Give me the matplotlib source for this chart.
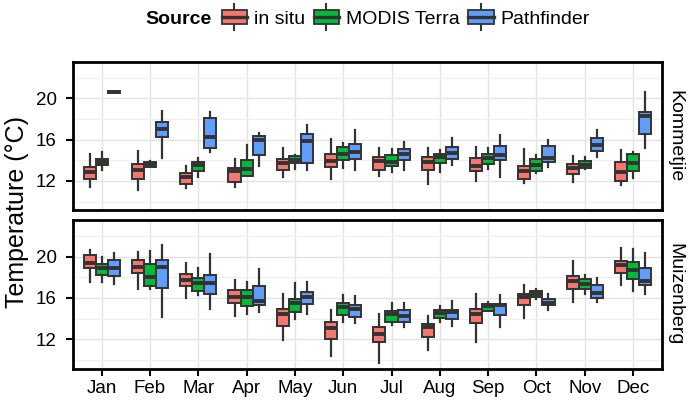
import matplotlib
matplotlib.use("Agg")
import matplotlib.pyplot as plt
from matplotlib.legend_handler import HandlerBase
from matplotlib.patches import Rectangle
from matplotlib.lines import Line2D

plt.rcParams['font.family'] = ['Liberation Sans', 'DejaVu Sans']

months = ["Jan", "Feb", "Mar", "Apr", "May", "Jun", "Jul", "Aug", "Sep", "Oct", "Nov", "Dec"]
sources = ["in situ", "MODIS Terra", "Pathfinder"]
sites = ["Kommetjie", "Muizenberg"]
colors = ["#F8766D", "#00BA38", "#619CFF"]

# (lower whisker, Q1, median, Q3, upper whisker) per month
kom_insitu = [(11.36, 12.2, 12.9, 13.3, 14.65), (11.13, 12.16, 13.07, 13.61, 14.9),
              (11.29, 11.71, 12.4, 12.75, 13.49), (11.36, 11.94, 12.97, 13.29, 14.1),
              (12.33, 13.07, 13.71, 14.1, 15.16), (12.2, 13.39, 13.97, 14.61, 16.03),
              (12.52, 13.07, 13.94, 14.36, 15.16), (11.68, 13.04, 13.81, 14.29, 15.22),
              (12.03, 12.97, 13.49, 14.26, 15.26), (11.78, 12.2, 12.91, 13.49, 15.06),
              (11.88, 12.65, 13.23, 13.61, 14.42), (11.61, 12.0, 12.84, 13.81, 15.0)]
kom_modis = [(13.07, 13.5, 13.8, 14.1, 14.8), (13.3, 13.35, 13.6, 13.85, 13.9),
             (12.33, 13.0, 13.55, 13.8, 14.2), (12.5, 12.52, 13.2, 14.0, 15.5),
             (13.2, 13.7, 14.0, 14.4, 14.5), (13.23, 14.03, 14.61, 15.32, 15.64),
             (12.84, 13.49, 13.87, 14.52, 15.1), (12.84, 13.78, 14.36, 14.61, 15.0),
             (13.16, 13.61, 14.2, 14.65, 15.22), (12.74, 13.0, 13.55, 14.13, 14.52),
             (13.2, 13.23, 13.55, 13.93, 14.36), (12.26, 12.97, 13.71, 14.61, 14.84)]
kom_path = [(20.5, 20.55, 20.6, 20.7, 20.75), (14.26, 16.23, 17.0, 17.74, 18.77),
            (14.84, 15.23, 16.29, 18.06, 18.71), (13.45, 14.51, 15.95, 16.32, 16.68),
            (13.07, 13.71, 15.87, 16.55, 17.42), (13.07, 14.13, 14.84, 15.58, 16.94),
            (13.07, 14.03, 14.61, 15.13, 15.74), (13.55, 14.1, 14.74, 15.26, 16.19),
            (12.36, 14.03, 14.52, 15.42, 16.45), (13.32, 13.8, 14.2, 15.39, 15.97),
            (14.29, 14.94, 15.48, 16.13, 16.94), (15.22, 16.55, 18.32, 18.71, 20.57)]
mui_insitu = [(17.5, 18.93, 19.42, 20.17, 20.59), (16.82, 18.38, 19.03, 19.71, 20.39),
              (16.04, 17.14, 17.73, 18.31, 19.35), (14.31, 15.52, 16.1, 16.75, 17.73),
              (11.94, 13.33, 14.47, 14.9, 16.36), (10.41, 12.04, 13.08, 13.73, 14.8),
              (9.76, 11.71, 12.52, 13.17, 14.47), (11.0, 12.2, 13.17, 13.5, 14.31),
              (11.71, 13.56, 14.47, 14.96, 16.36), (14.05, 15.35, 16.1, 16.43, 17.24),
              (15.61, 16.91, 17.66, 18.11, 19.61), (17.24, 18.38, 19.19, 19.61, 20.82)]
mui_modis = [(17.5, 18.21, 18.87, 19.32, 19.91), (16.91, 17.14, 18.05, 19.25, 20.55),
             (16.33, 16.69, 17.4, 17.89, 18.87), (14.47, 15.22, 16.1, 16.75, 17.56),
             (13.98, 14.64, 15.55, 15.94, 17.4), (13.73, 14.38, 15.12, 15.55, 16.33),
             (13.4, 13.73, 14.47, 14.74, 15.52), (13.66, 14.05, 14.54, 14.8, 15.22),
             (14.74, 14.74, 15.22, 15.39, 15.61), (15.94, 16.07, 16.36, 16.65, 16.91),
             (16.36, 16.91, 17.33, 17.79, 18.21), (16.65, 17.82, 18.7, 19.45, 20.72)]
mui_path = [(17.33, 18.11, 18.87, 19.64, 20.33), (14.15, 16.98, 19.03, 19.67, 21.07),
            (14.9, 16.43, 17.47, 18.21, 20.23), (14.64, 15.29, 15.68, 17.17, 18.8),
            (14.47, 15.45, 16.1, 16.59, 17.5), (13.56, 14.2, 14.96, 15.29, 16.16),
            (13.24, 13.66, 14.31, 14.8, 15.55), (13.33, 13.98, 14.64, 14.86, 15.71),
            (13.17, 14.38, 15.29, 15.45, 16.26), (14.8, 15.29, 15.55, 15.87, 16.43),
            (15.61, 16.0, 16.52, 17.3, 17.95), (16.36, 17.24, 17.63, 18.86, 20.33)]

site_data = {"Kommetjie": [kom_insitu, kom_modis, kom_path],
             "Muizenberg": [mui_insitu, mui_modis, mui_path]}

W, H = 690, 409
fig = plt.figure(figsize=(W / 100, H / 100), dpi=100)

def px_axes(left, top, right, bottom):
    return fig.add_axes([left / W, 1 - bottom / H, (right - left) / W, (bottom - top) / H])

AX_L, AX_R = 72.7, 662
ax_top = px_axes(AX_L, 61.7, AX_R, 210.3)
ax_bot = px_axes(AX_L, 219.7, AX_R, 369)

edge = "#333333"
offsets = [-0.25, 0.0, 0.25]
positions_base = list(range(1, len(months) + 1))

for ax, site in zip([ax_top, ax_bot], sites):
    for s_i, series in enumerate(site_data[site]):
        stats = [dict(whislo=v[0], q1=v[1], med=v[2], q3=v[3], whishi=v[4], fliers=[])
                 for v in series]
        pos = [p + offsets[s_i] for p in positions_base]
        ax.bxp(stats, positions=pos, widths=0.25, patch_artist=True,
               showcaps=False, showfliers=False,
               boxprops=dict(facecolor=colors[s_i], edgecolor=edge, linewidth=1.4),
               medianprops=dict(color=edge, linewidth=2.8, solid_capstyle='butt'),
               whiskerprops=dict(color=edge, linewidth=1.6),
               manage_ticks=False, zorder=3)
    ax.set_xlim(0.4, 12.6)
    ax.set_ylim(9.15, 23.55)
    ax.set_yticks([12, 16, 20])
    ax.set_yticks([10, 14, 18, 22], minor=True)
    ax.set_xticks(positions_base)
    ax.grid(True, which='major', color='#E3E3E3', linewidth=1.0, zorder=0)
    ax.grid(True, which='minor', axis='y', color='#F0F0F0', linewidth=0.8, zorder=0)
    ax.set_axisbelow(True)
    for sp in ax.spines.values():
        sp.set_linewidth(2.0)
        sp.set_color('black')
    ax.tick_params(axis='both', which='major', length=5, width=1.5, color='black',
                   labelsize=13.5)
    ax.tick_params(axis='y', which='major', pad=6.5)
    ax.tick_params(axis='x', which='major', pad=3.2)
    ax.tick_params(axis='y', which='minor', length=0)
    ax.text((675 - AX_L) / (AX_R - AX_L), 0.5, site, transform=ax.transAxes, rotation=270,
            ha='center', va='center', fontsize=14, color='black')

ax_top.tick_params(axis='x', which='major', length=0, labelbottom=False)
ax_bot.set_xticklabels(months)

fig.text(17 / W, 1 - 212 / H, "Temperature (°C)", rotation=90, ha='center', va='center',
         fontsize=18)


class BoxKeyHandler(HandlerBase):
    def __init__(self, color):
        super().__init__()
        self.color = color

    def create_artists(self, legend, orig_handle, xdescent, ydescent, width, height,
                       fontsize, trans):
        cx = -xdescent + width / 2
        bh = height * 0.95
        by = -ydescent + (height - bh) / 2
        wl = Line2D([cx, cx], [-ydescent - height * 0.4, -ydescent + height * 1.4],
                    color=edge, linewidth=1.5, transform=trans)
        rect = Rectangle((-xdescent, by), width, bh, facecolor=self.color,
                         edgecolor=edge, linewidth=1.3, transform=trans)
        med = Line2D([-xdescent, -xdescent + width], [by + bh / 2, by + bh / 2],
                     color=edge, linewidth=2.4, transform=trans)
        return [wl, rect, med]


handles = [Rectangle((0, 0), 1, 1) for _ in sources]
handler_map = {h: BoxKeyHandler(c) for h, c in zip(handles, colors)}
fig.text(145 / W, 1 - 19 / H, "Source", fontsize=14, fontweight='bold',
         ha='left', va='center')
leg = fig.legend(handles, sources, handler_map=handler_map, loc='center left',
                 bbox_to_anchor=(216 / W, 1 - 19 / H), ncol=3, frameon=False,
                 fontsize=14, handlelength=1.3, handleheight=0.75, handletextpad=0.35,
                 columnspacing=0.45, borderaxespad=0, borderpad=0.3)

fig.savefig("out.png", dpi=100)
